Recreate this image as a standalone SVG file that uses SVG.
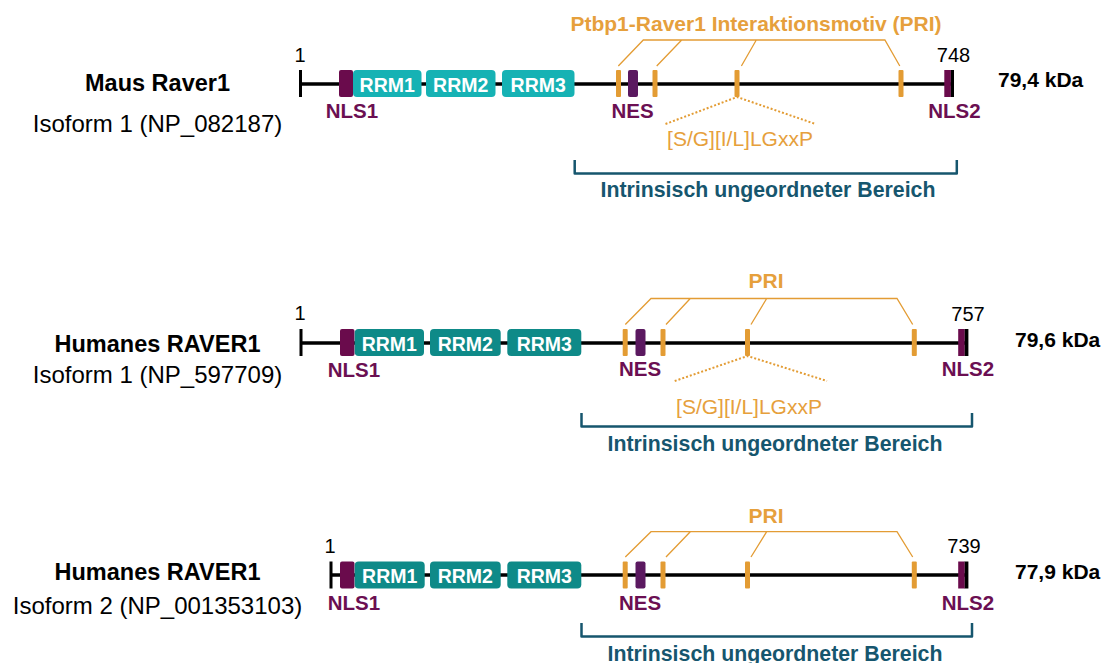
<svg xmlns="http://www.w3.org/2000/svg" width="1102" height="663" viewBox="0 0 1102 663">
<style>
text{font-family:"Liberation Sans",Arial,sans-serif}
.name{font-weight:bold;font-size:23.5px;fill:#000;text-anchor:middle}
.iso{font-size:24px;fill:#000;text-anchor:middle}
.num{font-size:20px;fill:#000;text-anchor:middle}
.kda{font-weight:bold;font-size:21px;fill:#000}
.lab{font-weight:bold;font-size:20.5px;fill:#6B0F52;text-anchor:middle}
.rrmt{font-weight:bold;font-size:19.5px;fill:#fff;text-anchor:middle}
.pri{font-weight:bold;font-size:21px;fill:#E6A03C;text-anchor:middle}
.mot{font-size:21px;fill:#E6A03C;text-anchor:middle}
.idr{font-weight:bold;font-size:21.3px;fill:#16566E;text-anchor:middle}
.bb{stroke:#000;stroke-width:3.5}
.tick{fill:#000}
.nls{fill:#6A0B4C}
.nes{fill:#5B1960}
.orn{fill:#E39C34}
.rrmA{fill:#16B2B4}
.rrmB{fill:#0E8A88}
.prl{fill:none;stroke:#E39C34;stroke-width:1.3}
.dot{fill:none;stroke:#E39C34;stroke-width:2;stroke-dasharray:2 2}
.brk{fill:none;stroke:#16566E;stroke-width:2.5;stroke-linejoin:round}
</style>
<rect width="1102" height="663" fill="#fff"/>

<!-- Row 1 -->
<g id="row1-labels">
<text class="name" x="157.5" y="90.5">Maus Raver1</text>
<text class="iso" x="157.5" y="131.5">Isoform 1 (NP_082187)</text>
<text class="num" x="300" y="62">1</text>
<text class="num" x="953.5" y="62">748</text>
<text class="kda" x="998" y="87">79,4 kDa</text>
</g>
<g id="row1-backbone">
<line class="bb" x1="300" y1="84" x2="952" y2="84"/>
<rect class="tick" x="299" y="70" width="3" height="27"/>
<rect class="tick" x="950.5" y="70" width="3.5" height="27"/>
</g>
<g id="row1-NLS1"><rect class="nls" x="339" y="70" width="14" height="27" rx="2"/><text class="lab" x="352" y="118">NLS1</text></g>
<g id="row1-RRM1"><rect class="rrmA" x="353" y="70" width="68.5" height="27" rx="4"/><text class="rrmt" x="387.2" y="91.5">RRM1</text></g>
<g id="row1-RRM2"><rect class="rrmA" x="426" y="70" width="69.5" height="27" rx="4"/><text class="rrmt" x="460.7" y="91.5">RRM2</text></g>
<g id="row1-RRM3"><rect class="rrmA" x="502" y="70" width="72.5" height="27" rx="4"/><text class="rrmt" x="538.2" y="91.5">RRM3</text></g>
<g id="row1-PRI1"><rect class="orn" x="616" y="70" width="5" height="27" rx="1"/></g>
<g id="row1-NES"><rect class="nes" x="628" y="70" width="10" height="27" rx="2"/><text class="lab" x="632.5" y="118">NES</text></g>
<g id="row1-PRI2"><rect class="orn" x="652.5" y="70" width="5" height="27" rx="1"/></g>
<g id="row1-PRI3"><rect class="orn" x="734.5" y="70" width="5" height="27" rx="1"/></g>
<g id="row1-PRI4"><rect class="orn" x="898.5" y="70" width="5" height="27" rx="1"/></g>
<g id="row1-NLS2"><rect class="nls" x="944.3" y="70" width="6.5" height="27"/><text class="lab" x="954.4" y="118">NLS2</text></g>
<g id="row1-PRI-label"><text class="pri" x="756" y="30.5">Ptbp1-Raver1 Interaktionsmotiv (PRI)</text></g>
<g id="row1-motif"><text class="mot" x="740" y="145.5">[S/G][I/L]LGxxP</text></g>
<g id="row1-IDR"><path class="brk" d="M574.7 160 V173.5 H956.8 V160"/><text class="idr" x="768" y="197">Intrinsisch ungeordneter Bereich</text></g>

<!-- Row 2 -->
<g id="row2-labels">
<text class="name" x="157.5" y="351.5">Humanes RAVER1</text>
<text class="iso" x="157.5" y="383">Isoform 1 (NP_597709)</text>
<text class="num" x="300" y="320">1</text>
<text class="num" x="968" y="321">757</text>
<text class="kda" x="1015" y="347">79,6 kDa</text>
</g>
<g id="row2-backbone">
<line class="bb" x1="300" y1="343" x2="966" y2="343"/>
<rect class="tick" x="299.5" y="329" width="3" height="27"/>
<rect class="tick" x="964.4" y="329" width="4" height="27"/>
</g>
<g id="row2-NLS1"><rect class="nls" x="340" y="329" width="14.5" height="27" rx="2"/><text class="lab" x="354" y="376.5">NLS1</text></g>
<g id="row2-RRM1"><rect class="rrmB" x="354.7" y="329" width="69.3" height="27" rx="4"/><text class="rrmt" x="389.3" y="350.5">RRM1</text></g>
<g id="row2-RRM2"><rect class="rrmB" x="430" y="329" width="70.7" height="27" rx="4"/><text class="rrmt" x="465.3" y="350.5">RRM2</text></g>
<g id="row2-RRM3"><rect class="rrmB" x="507.3" y="329" width="74" height="27" rx="4"/><text class="rrmt" x="544.3" y="350.5">RRM3</text></g>
<g id="row2-PRI1"><rect class="orn" x="622.7" y="329" width="5" height="27" rx="1"/></g>
<g id="row2-NES"><rect class="nes" x="635.5" y="329" width="10" height="27" rx="2"/><text class="lab" x="640" y="376">NES</text></g>
<g id="row2-PRI2"><rect class="orn" x="660.5" y="329" width="5" height="27" rx="1"/></g>
<g id="row2-PRI3"><rect class="orn" x="745" y="329" width="5" height="27" rx="1"/></g>
<g id="row2-PRI4"><rect class="orn" x="911.8" y="329" width="5" height="27" rx="1"/></g>
<g id="row2-NLS2"><rect class="nls" x="958.2" y="329" width="6.4" height="27"/><text class="lab" x="968" y="376">NLS2</text></g>
<g id="row2-PRI-label"><text class="pri" x="766" y="288">PRI</text></g>
<g id="row2-motif"><text class="mot" x="749" y="414">[S/G][I/L]LGxxP</text></g>
<g id="row2-IDR"><path class="brk" d="M581.5 413 V426.5 H972 V413"/><text class="idr" x="775" y="451">Intrinsisch ungeordneter Bereich</text></g>

<!-- Row 3 -->
<g id="row3-labels">
<text class="name" x="157.5" y="580">Humanes RAVER1</text>
<text class="iso" x="157.5" y="614">Isoform 2 (NP_001353103)</text>
<text class="num" x="330" y="553">1</text>
<text class="num" x="964" y="553">739</text>
<text class="kda" x="1015" y="579">77,9 kDa</text>
</g>
<g id="row3-backbone">
<line class="bb" x1="331" y1="575" x2="966" y2="575"/>
<rect class="tick" x="329.5" y="561.5" width="3" height="27"/>
<rect class="tick" x="964.4" y="561.5" width="4" height="27"/>
</g>
<g id="row3-NLS1"><rect class="nls" x="340" y="561.5" width="14.5" height="27" rx="2"/><text class="lab" x="354" y="610">NLS1</text></g>
<g id="row3-RRM1"><rect class="rrmB" x="354.7" y="561.5" width="70" height="27" rx="4"/><text class="rrmt" x="389.7" y="583">RRM1</text></g>
<g id="row3-RRM2"><rect class="rrmB" x="430" y="561.5" width="70.7" height="27" rx="4"/><text class="rrmt" x="465.3" y="583">RRM2</text></g>
<g id="row3-RRM3"><rect class="rrmB" x="507.3" y="561.5" width="74" height="27" rx="4"/><text class="rrmt" x="544.3" y="583">RRM3</text></g>
<g id="row3-PRI1"><rect class="orn" x="622.7" y="561.5" width="5" height="27" rx="1"/></g>
<g id="row3-NES"><rect class="nes" x="635.5" y="561.5" width="10" height="27" rx="2"/><text class="lab" x="640" y="610">NES</text></g>
<g id="row3-PRI2"><rect class="orn" x="660.5" y="561.5" width="5" height="27" rx="1"/></g>
<g id="row3-PRI3"><rect class="orn" x="745" y="561.5" width="5" height="27" rx="1"/></g>
<g id="row3-PRI4"><rect class="orn" x="911.8" y="561.5" width="5" height="27" rx="1"/></g>
<g id="row3-NLS2"><rect class="nls" x="958.2" y="561.5" width="6.4" height="27"/><text class="lab" x="968" y="610">NLS2</text></g>
<g id="row3-PRI-label"><text class="pri" x="766" y="523">PRI</text></g>
<g id="row3-IDR"><path class="brk" d="M581.5 623 V636.5 H972 V623"/><text class="idr" x="775" y="661">Intrinsisch ungeordneter Bereich</text></g>

<g id="connectors">
<path class="prl" d="M618.3 66 L643.3 40 H884.9 L899.8 66 M656.7 66 L681.7 40 M741.4 66 L756.3 40"/>
<path class="dot" d="M665.5 124 L737 97 L815.5 124"/>
<path class="prl" d="M625.3 324.5 L651 298.5 H897 L912.7 324.5 M666 324.5 L690.3 298.5 M751 324.5 L766.7 298.5"/>
<path class="dot" d="M674.7 381 L747.5 356 L827 381"/>
<path class="prl" d="M625.3 557 L651 531.7 H897 L912.7 557 M666 557 L690.3 531.7 M751 557 L766.7 531.7"/>
</g>
</svg>
